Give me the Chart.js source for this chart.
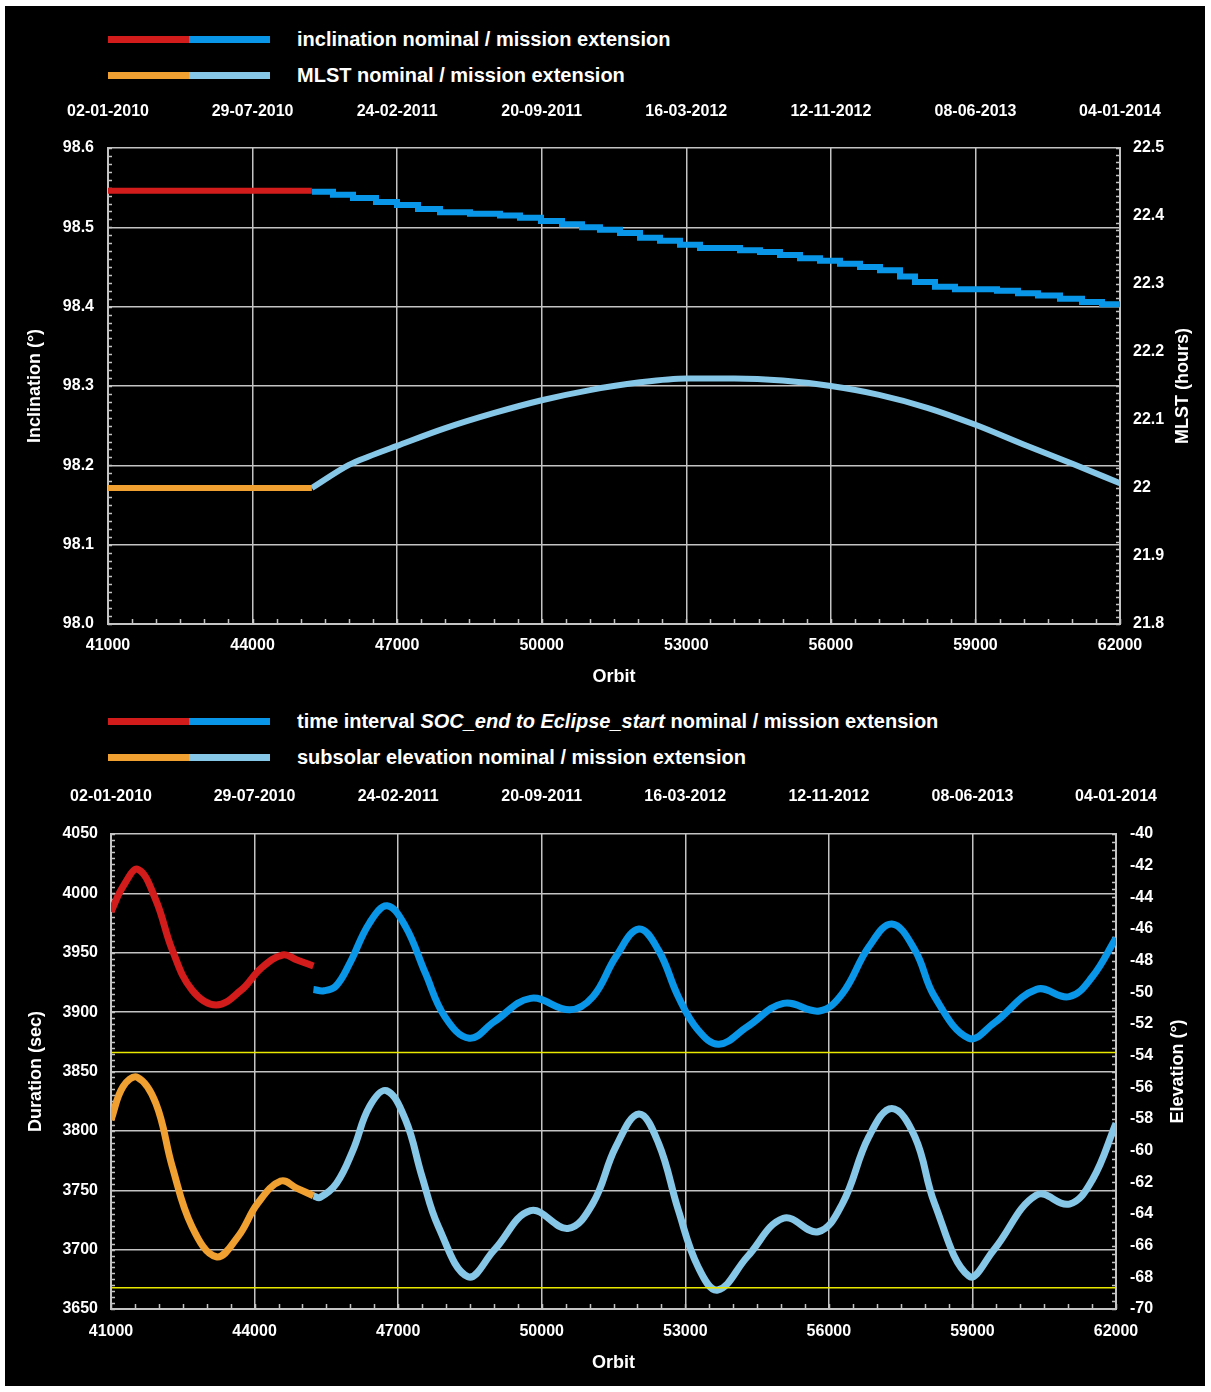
<!DOCTYPE html>
<html>
<head>
<meta charset="utf-8">
<script src="https://cdn.jsdelivr.net/npm/chart.js@4.4.1/dist/chart.umd.min.js"></script>
<style>
  body { margin: 0; background: #fff; width: 1211px; height: 1392px; position: relative; overflow: hidden; }
  #frame { position: absolute; left: 5px; top: 6px; width: 1200px; height: 1380px; background: #000; }
  canvas { position: absolute; left: 0; }
  .sample { position: absolute; height: 7px; }
  .ltext { position: absolute; left: 297px; color: #fff; font: bold 20px "Liberation Sans", Arial, sans-serif; line-height: 24px; white-space: nowrap; }
</style>
</head>
<body>
<div id="frame"></div>

<div class="sample" style="left:108px;top:36px;width:81px;background:#d21c1c"></div>
<div class="sample" style="left:189px;top:36px;width:81px;background:#0a96e8"></div>
<div class="ltext" style="top:27px">inclination nominal / mission extension</div>
<div class="sample" style="left:108px;top:72px;width:81px;background:#f0a030"></div>
<div class="sample" style="left:189px;top:72px;width:81px;background:#86c6e6"></div>
<div class="ltext" style="top:63px">MLST nominal / mission extension</div>

<div class="sample" style="left:108px;top:718px;width:81px;background:#d21c1c"></div>
<div class="sample" style="left:189px;top:718px;width:81px;background:#0a96e8"></div>
<div class="ltext" style="top:709px">time interval <i>SOC_end to Eclipse_start</i> nominal / mission extension</div>
<div class="sample" style="left:108px;top:754px;width:81px;background:#f0a030"></div>
<div class="sample" style="left:189px;top:754px;width:81px;background:#86c6e6"></div>
<div class="ltext" style="top:745px">subsolar elevation nominal / mission extension</div>

<canvas id="c1" width="1211" height="700" style="top:0"></canvas>
<canvas id="c2" width="1211" height="692" style="top:700px"></canvas>

<script>
// top axis dates, one per 3000 orbits
const dateLabels = ['02-01-2010', '29-07-2010', '24-02-2011', '20-09-2011', '16-03-2012', '12-11-2012', '08-06-2013', '04-01-2014'];

// inclination (deg), nominal and extension (stepped)
const inclNomOrbit = [41000, 45230];
const inclNomValue = [98.546, 98.546];
const inclExtOrbit = [45233, 45669, 46084, 46561, 46997, 47433, 47889, 48512, 49134, 49549, 49985, 50421, 50836, 51209, 51625, 52040, 52455, 52870, 53285, 54115, 54530, 54945, 55360, 55775, 56190, 56605, 57020, 57435, 57746, 58161, 58576, 59448, 59883, 60298, 60755, 61211, 61626, 62000];
const inclExtValue = [98.545, 98.541, 98.537, 98.532, 98.528, 98.523, 98.519, 98.517, 98.515, 98.512, 98.508, 98.504, 98.500, 98.497, 98.493, 98.487, 98.483, 98.478, 98.474, 98.471, 98.469, 98.465, 98.461, 98.458, 98.454, 98.450, 98.446, 98.438, 98.431, 98.425, 98.422, 98.420, 98.417, 98.414, 98.410, 98.406, 98.403, 98.403];

// MLST (hours)
const mlstNomOrbit = [41000, 45230];
const mlstNomValue = [22.0, 22.0];
const mlstExtOrbit = [45230, 46000, 46400, 47000, 48000, 49000, 50000, 51000, 52000, 53000, 54000, 55000, 56000, 57000, 58000, 59000, 60000, 61000, 62000];
const mlstExtValue = [22.0, 22.034, 22.046, 22.062, 22.088, 22.110, 22.129, 22.144, 22.155, 22.161, 22.161, 22.158, 22.150, 22.137, 22.118, 22.093, 22.064, 22.036, 22.007];

// time interval SOC_end to Eclipse_start (sec)
const durNomOrbit = [41000, 41250, 41566, 41937, 42281, 42693, 43200, 43723, 44134, 44588, 44889, 45230];
const durNomValue = [3984.6, 4005.6, 4020.2, 3994.4, 3952.3, 3918.6, 3906, 3918.6, 3936.9, 3948.1, 3943.9, 3938.8];
const durExtOrbit = [45230, 45450, 45700, 45988, 46400, 46770, 47155, 47567, 47979, 48487, 49009, 49765, 50589, 51069, 51550, 52030, 52442, 52854, 53266, 53705, 54296, 55050, 55805, 56286, 56836, 57316, 57797, 58209, 58924, 59446, 60339, 61025, 61505, 62000];
const durExtValue = [3919, 3918, 3922, 3941, 3975, 3989.5, 3972, 3933, 3896, 3878, 3892, 3911.6, 3902, 3913, 3946.7, 3970, 3952, 3913, 3885, 3873, 3887.7, 3907.4, 3901, 3915.8, 3955, 3974.2, 3952.3, 3913, 3878, 3890.6, 3919.2, 3913, 3929.8, 3962.4];

// subsolar elevation (deg)
const elevNomOrbit = [41000, 41251, 41553, 41937, 42281, 42693, 43200, 43654, 44065, 44546, 44889, 45230];
const elevNomValue = [-58.06, -55.96, -55.37, -57.01, -61.01, -64.80, -66.70, -65.43, -63.33, -61.92, -62.38, -62.85];
const elevExtOrbit = [45230, 45370, 45713, 46057, 46400, 46757, 47155, 47499, 47842, 48459, 49009, 49765, 50546, 51069, 51550, 52030, 52442, 52854, 53266, 53678, 54296, 55050, 55778, 56286, 56836, 57316, 57797, 58209, 58924, 59446, 60339, 61025, 61505, 62000];
const elevExtValue = [-62.85, -62.95, -62.06, -59.96, -57.22, -56.21, -58.06, -61.64, -64.80, -67.96, -66.27, -63.79, -64.91, -63.33, -59.75, -57.68, -59.54, -63.75, -67.33, -68.80, -66.70, -64.27, -65.12, -63.33, -59.12, -57.33, -59.12, -63.33, -67.92, -66.27, -62.80, -63.37, -61.85, -58.27];

// yellow limit lines
const durLimit = 3866;
const elevLimit = -68.65;

const RED = '#d21c1c', BLUE = '#0a96e8', ORANGE = '#f0a030', LIGHT = '#86c6e6';
const FONT = '"Liberation Sans", Arial, sans-serif';
const GRID = '#c4c4c4';

Chart.defaults.font.family = FONT;
Chart.defaults.font.weight = 'bold';
Chart.defaults.color = '#fff';

const pts = (xs, ys) => xs.map((x, i) => ({ x: x, y: ys[i] }));

// short minor ticks drawn inside the plot area
const minorTicks = {
  id: 'minorTicks',
  beforeDatasetsDraw(chart, args, opts) {
    const { ctx, chartArea: a } = chart;
    ctx.save();
    ctx.strokeStyle = GRID;
    ctx.lineWidth = 1.5;
    ctx.beginPath();
    opts.list.forEach(m => {
      const s = chart.scales[m.id];
      const n = Math.round((s.max - s.min) / m.step);
      for (let i = 0; i <= n; i++) {
        const p = Math.round(s.getPixelForValue(s.min + i * m.step)) + 0.5;
        if (m.side === 'left') { ctx.moveTo(a.left, p); ctx.lineTo(a.left + m.len, p); }
        else if (m.side === 'right') { ctx.moveTo(a.right, p); ctx.lineTo(a.right - m.len, p); }
        else { ctx.moveTo(p, a.bottom); ctx.lineTo(p, a.bottom - m.len); }
      }
    });
    ctx.stroke();
    ctx.restore();
  }
};

// right axis title, reading bottom to top like the left one
const sideTitle = {
  id: 'sideTitle',
  afterDraw(chart, args, opts) {
    const { ctx, chartArea: a } = chart;
    ctx.save();
    ctx.translate(opts.x, (a.top + a.bottom) / 2);
    ctx.rotate(-Math.PI / 2);
    ctx.font = 'bold 18px ' + FONT;
    ctx.fillStyle = '#fff';
    ctx.textAlign = 'center';
    ctx.textBaseline = 'middle';
    ctx.fillText(opts.text, 0, 0);
    ctx.restore();
  }
};

function orbitAxes(bottomH, bottomPad, titlePad, topH, topPad) {
  return {
    x: {
      type: 'linear', position: 'bottom', min: 41000, max: 62000,
      afterFit: s => { s.height = bottomH; },
      grid: { color: GRID, lineWidth: 1.5, drawTicks: false },
      border: { color: GRID, width: 2 },
      ticks: { stepSize: 3000, autoSkip: false, maxRotation: 0, padding: bottomPad, font: { size: 16 }, callback: v => String(v) },
      title: { display: true, text: 'Orbit', font: { size: 18, weight: 'bold' }, padding: { top: 0, bottom: titlePad } }
    },
    xTop: {
      type: 'linear', position: 'top', min: 41000, max: 62000,
      afterFit: s => { s.height = topH; },
      grid: { display: false, drawTicks: false },
      border: { display: false },
      ticks: { stepSize: 3000, autoSkip: false, maxRotation: 0, padding: topPad, font: { size: 16 },
               callback: v => dateLabels[Math.round((v - 41000) / 3000)] }
    }
  };
}

const common = {
  responsive: false,
  animation: false,
  layout: { padding: 0 },
  elements: { point: { radius: 0 }, line: { borderCapStyle: 'butt', tension: 0.4 } },
  plugins: { legend: { display: false }, tooltip: { enabled: false } }
};

// ---------- top chart: inclination and MLST ----------
new Chart(document.getElementById('c1'), {
  type: 'line',
  data: {
    datasets: [
      { data: pts(inclNomOrbit, inclNomValue), borderColor: RED, borderWidth: 6, yAxisID: 'y', tension: 0 },
      { data: pts(inclExtOrbit, inclExtValue), borderColor: BLUE, borderWidth: 6, yAxisID: 'y', stepped: true, borderJoinStyle: 'miter' },
      { data: pts(mlstNomOrbit, mlstNomValue), borderColor: ORANGE, borderWidth: 6, yAxisID: 'y2', tension: 0 },
      { data: pts(mlstExtOrbit, mlstExtValue), borderColor: LIGHT, borderWidth: 6, yAxisID: 'y2', cubicInterpolationMode: 'monotone' }
    ]
  },
  options: Object.assign({}, common, {
    plugins: Object.assign({}, common.plugins, {
      minorTicks: { list: [
        { id: 'y', step: 0.01, side: 'left', len: 4 },
        { id: 'y2', step: 0.01, side: 'right', len: 4 },
        { id: 'x', step: 500, side: 'bottom', len: 5 }
      ] },
      sideTitle: { text: 'MLST (hours)', x: 1183 }
    }),
    scales: Object.assign(orbitAxes(76, 12, 12, 148, 27), {
      y: {
        position: 'left', min: 98.0, max: 98.6,
        afterFit: s => { s.width = 108; },
        grid: { color: GRID, lineWidth: 1.5, drawTicks: false },
        border: { color: GRID, width: 2 },
        ticks: { stepSize: 0.1, padding: 14, font: { size: 16 }, callback: v => v.toFixed(1) },
        title: { display: true, text: 'Inclination (°)', font: { size: 18, weight: 'bold' }, padding: { top: 24, bottom: 0 } }
      },
      y2: {
        position: 'right', min: 21.8, max: 22.5,
        afterFit: s => { s.width = 91; },
        grid: { display: false, drawTicks: false },
        border: { color: GRID, width: 2 },
        ticks: { stepSize: 0.1, padding: 13, font: { size: 16 }, callback: v => String(+v.toFixed(1)) }
      }
    })
  }),
  plugins: [minorTicks, sideTitle]
});

// ---------- bottom chart: time interval and subsolar elevation ----------
new Chart(document.getElementById('c2'), {
  type: 'line',
  data: {
    datasets: [
      { data: pts([41000, 62000], [durLimit, durLimit]), borderColor: '#e8e800', borderWidth: 1.5, yAxisID: 'y', tension: 0 },
      { data: pts([41000, 62000], [elevLimit, elevLimit]), borderColor: '#e8e800', borderWidth: 1.5, yAxisID: 'y2', tension: 0 },
      { data: pts(durNomOrbit, durNomValue), borderColor: RED, borderWidth: 7, yAxisID: 'y' },
      { data: pts(durExtOrbit, durExtValue), borderColor: BLUE, borderWidth: 7, yAxisID: 'y' },
      { data: pts(elevNomOrbit, elevNomValue), borderColor: ORANGE, borderWidth: 7, yAxisID: 'y2' },
      { data: pts(elevExtOrbit, elevExtValue), borderColor: LIGHT, borderWidth: 7, yAxisID: 'y2' }
    ]
  },
  options: Object.assign({}, common, {
    plugins: Object.assign({}, common.plugins, {
      minorTicks: { list: [
        { id: 'y', step: 5, side: 'left', len: 4 },
        { id: 'y2', step: 0.5, side: 'right', len: 4 },
        { id: 'x', step: 500, side: 'bottom', len: 5 }
      ] },
      sideTitle: { text: 'Elevation (°)', x: 1178 }
    }),
    scales: Object.assign(orbitAxes(83, 13, 18, 134, 28), {
      y: {
        position: 'left', min: 3650, max: 4050,
        afterFit: s => { s.width = 111; },
        grid: { color: GRID, lineWidth: 1.5, drawTicks: false },
        border: { color: GRID, width: 2 },
        ticks: { stepSize: 50, padding: 13, font: { size: 16 }, callback: v => String(v) },
        title: { display: true, text: 'Duration (sec)', font: { size: 18, weight: 'bold' }, padding: { top: 25, bottom: 0 } }
      },
      y2: {
        position: 'right', min: -70, max: -40,
        afterFit: s => { s.width = 95; },
        grid: { display: false, drawTicks: false },
        border: { color: GRID, width: 2 },
        ticks: { stepSize: 2, padding: 14, font: { size: 16 }, callback: v => String(v) }
      }
    })
  }),
  plugins: [minorTicks, sideTitle]
});
</script>
</body>
</html>
